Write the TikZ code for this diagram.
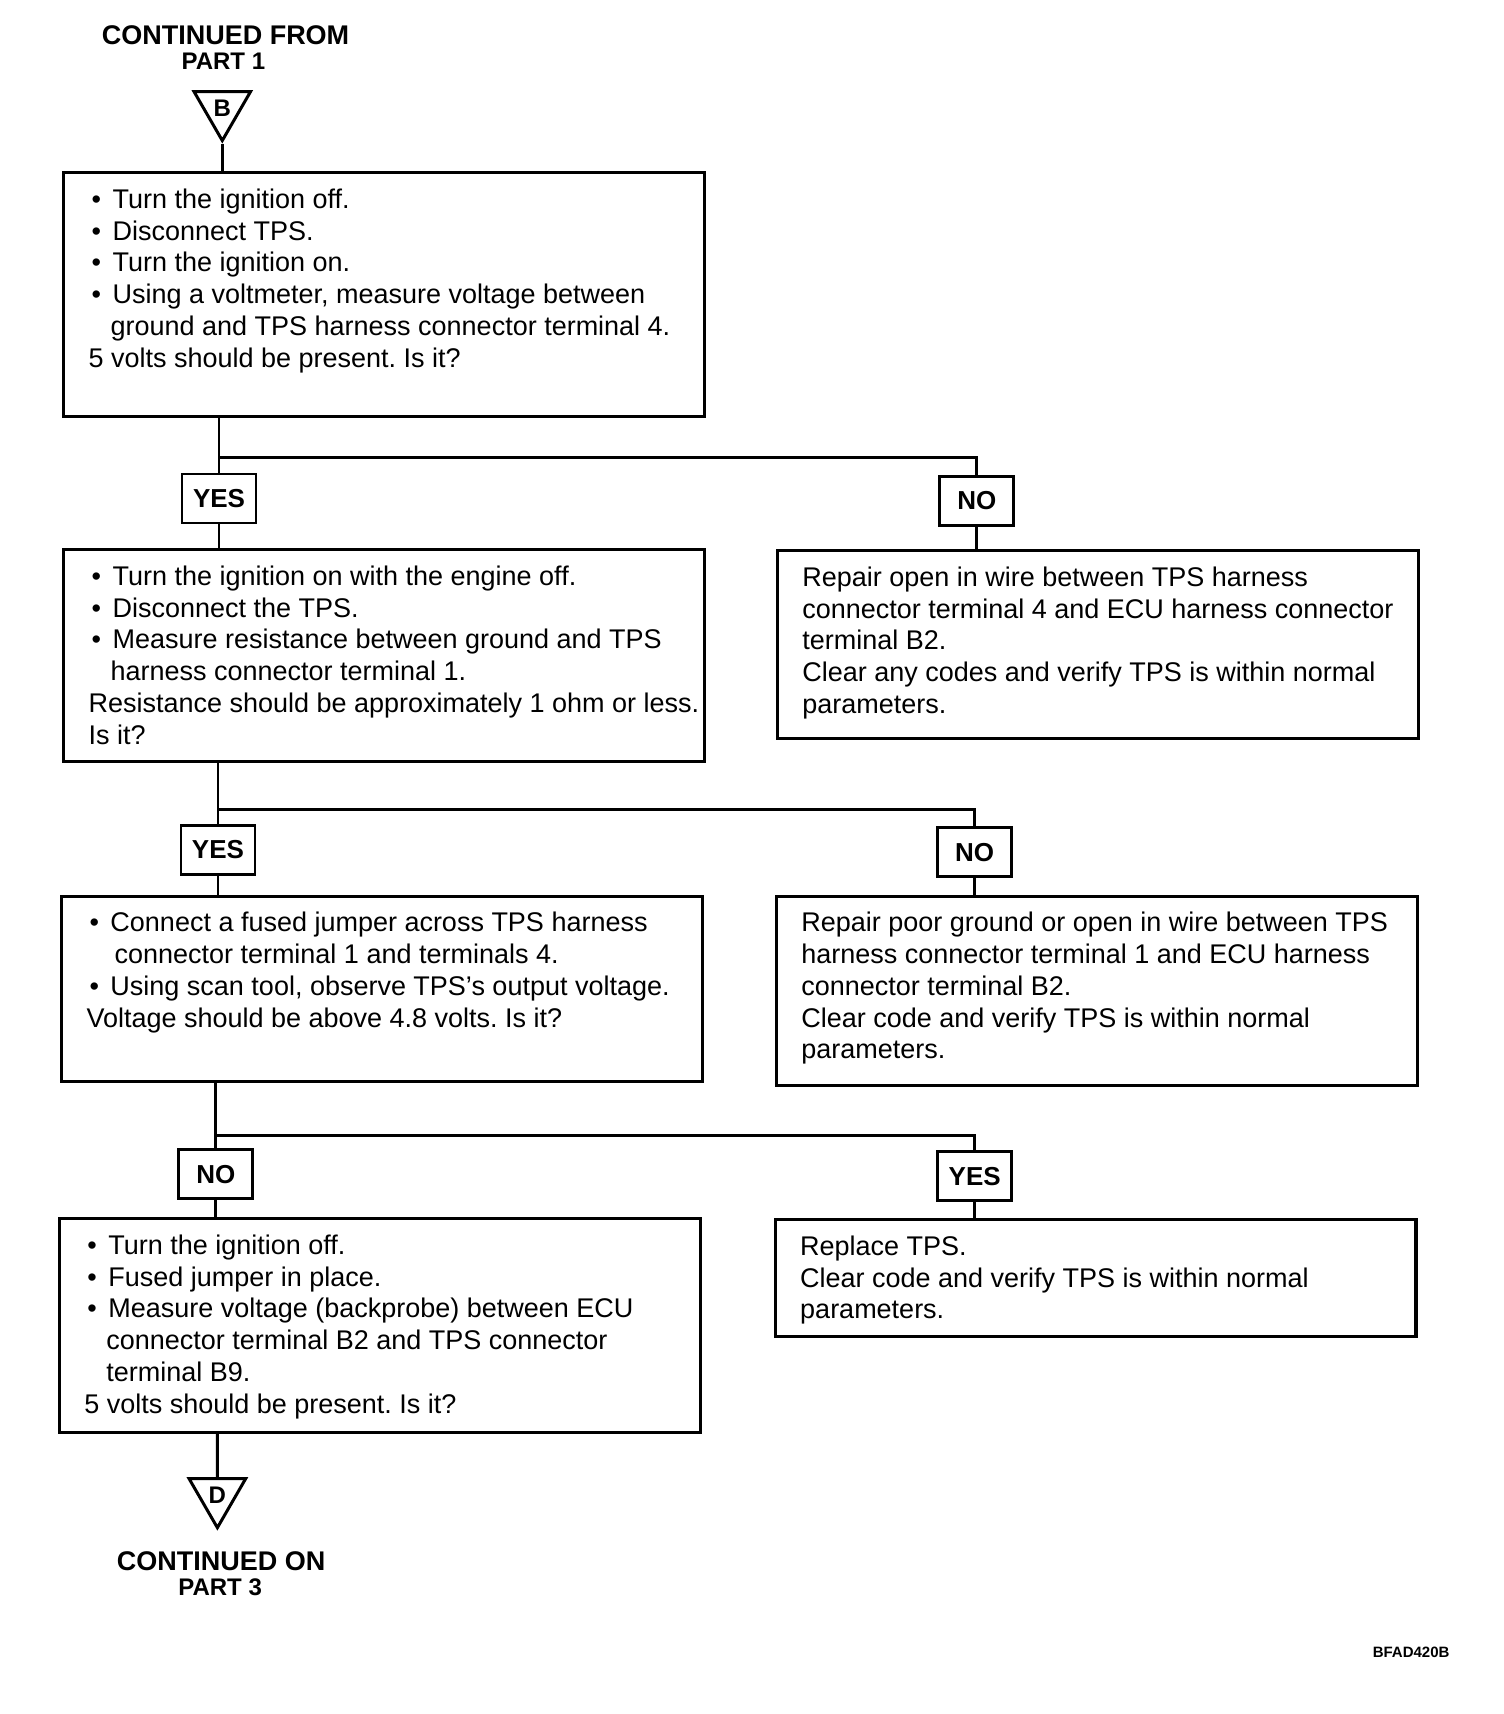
\documentclass[tikz,border=0pt]{standalone}
\usepackage{fontspec}
\setmainfont{Liberation Sans}
\usetikzlibrary{shapes.geometric}
\frenchspacing

\newlength\boxindent
\setlength\boxindent{12.5pt}
% text of a step box: height, width, lines
\newcommand\boxtext[3]{\hspace*{\boxindent}\parbox[t][#1][t]{#2}{\raggedright\fontsize{13.5}{15.9}\selectfont #3}}
\newcommand\bul{\hspace*{1.5pt}\makebox[10.5pt][l]{\textbullet}}
\newcommand\cont{\hspace*{11pt}}

\begin{document}
\begin{tikzpicture}[x=0.545pt,y=-0.545pt,line width=1.4pt,
  qbox/.style={draw,line width=1.6pt,inner xsep=0pt,inner ysep=8pt,anchor=north west},
  lbl/.style={draw,minimum width=37pt,minimum height=24.5pt,inner sep=0pt,
    font=\bfseries\fontsize{13}{15}\selectfont},
  tri/.style={draw,line width=1.5pt,regular polygon,regular polygon sides=3,shape border rotate=180,
    minimum size=32.7pt,inner sep=0pt,font=\bfseries\fontsize{12}{14}\selectfont},
  head/.style={inner sep=0pt,font=\bfseries\fontsize{13.5}{15}\selectfont},
  part/.style={inner sep=0pt,font=\bfseries\fontsize{12}{14}\selectfont}]

\useasboundingbox (0,0) rectangle (1380,1573);

% coming in from part 1
\node[head] (from) at (207,32) {CONTINUED FROM};
\node[part] (part1) at (205,56) {PART 1};
\node[tri] (tB) at (204,99) {B};

% first check
\node[qbox] (q1) at (57,157) {\boxtext{106pt}{308pt}{%
\bul Turn the ignition off.\\
\bul Disconnect TPS.\\
\bul Turn the ignition on.\\
\bul Using a voltmeter, measure voltage between\\
\cont ground and TPS harness connector terminal 4.\\
5 volts should be present. Is it?}};

\coordinate (j1) at (201,420);
\node[lbl] (y1) at (201,457.5) {YES};
\node[lbl] (n1) at (896.5,459.5) {NO};

\node[qbox] (q2) at (57,503) {\boxtext{90pt}{308pt}{%
\bul Turn the ignition on with the engine off.\\
\bul Disconnect the TPS.\\
\bul Measure resistance between ground and TPS\\
\cont harness connector terminal 1.\\
Resistance should be approximately 1 ohm or less.\\
Is it?}};
\node[qbox] (r1) at (712,504) {\boxtext{77.7pt}{308pt}{%
Repair open in wire between TPS harness\\
connector terminal 4 and ECU harness connector\\
terminal B2.\\
Clear any codes and verify TPS is within normal\\
parameters.}};

% second check
\coordinate (j2) at (200,743);
\node[lbl] (y2) at (200,780) {YES};
\node[lbl] (n2) at (894.5,782) {NO};

\node[qbox] (q3) at (55,821) {\boxtext{76.7pt}{308pt}{%
\bul Connect a fused jumper across TPS harness\\
\hspace*{14pt}connector terminal 1 and terminals 4.\\
\bul Using scan tool, observe TPS's output voltage.\\
Voltage should be above 4.8 volts. Is it?}};
\node[qbox] (r2) at (711,821) {\boxtext{78.8pt}{308pt}{%
Repair poor ground or open in wire between TPS\\
harness connector terminal 1 and ECU harness\\
connector terminal B2.\\
Clear code and verify TPS is within normal\\
parameters.}};

% third check
\coordinate (j3) at (198,1042);
\node[lbl] (n3) at (198,1077.5) {NO};
\node[lbl] (y3) at (894.5,1079.5) {YES};

\node[qbox] (q4) at (53,1117) {\boxtext{90.8pt}{308pt}{%
\bul Turn the ignition off.\\
\bul Fused jumper in place.\\
\bul Measure voltage (backprobe) between ECU\\
\cont connector terminal B2 and TPS connector\\
\cont terminal B9.\\
5 volts should be present. Is it?}};
\node[qbox] (r3) at (710,1118) {\boxtext{42.3pt}{308pt}{%
Replace TPS.\\
Clear code and verify TPS is within normal\\
parameters.}};

% going on to part 3
\node[tri] (tD) at (199.5,1372) {D};
\node[head] (on) at (203,1433) {CONTINUED ON};
\node[part] (part3) at (202,1457) {PART 3};
\node[inner sep=0pt,font=\bfseries\fontsize{7.5}{9}\selectfont] (code) at (1295,1516) {BFAD420B};

% connectors
\draw (tB.south) -- (tB.south |- q1.north);
\draw (q1.south -| j1) -- (y1.north);
\draw (j1) -| (n1.north);
\draw (y1.south) -- (y1.south |- q2.north);
\draw (n1.south) -- (n1.south |- r1.north);

\draw (q2.south -| j2) -- (y2.north);
\draw (j2) -| (n2.north);
\draw (y2.south) -- (y2.south |- q3.north);
\draw (n2.south) -- (n2.south |- r2.north);

\draw (q3.south -| j3) -- (n3.north);
\draw (j3) -| (y3.north);
\draw (n3.south) -- (n3.south |- q4.north);
\draw (y3.south) -- (y3.south |- r3.north);

\draw (q4.south -| tD) -- (tD.north);
\end{tikzpicture}
\end{document}
